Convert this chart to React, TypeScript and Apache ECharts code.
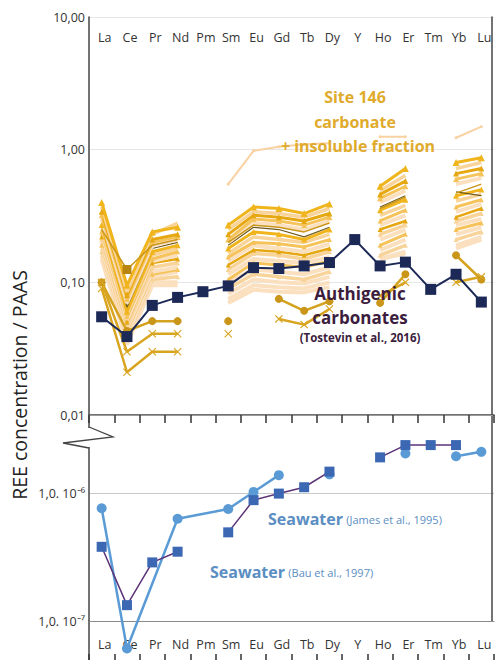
import React, { useEffect, useRef } from 'react';
import * as echarts from 'echarts';

const categories = ['La', 'Ce', 'Pr', 'Nd', 'Pm', 'Sm', 'Eu', 'Gd', 'Tb', 'Dy', 'Y', 'Ho', 'Er', 'Tm', 'Yb', 'Lu'];

// Authigenic carbonates (Tostevin et al., 2016), REE / PAAS
const authigenic = [0.055, 0.039, 0.067, 0.077, 0.085, 0.094, 0.129, 0.127, 0.133, 0.141, 0.21, 0.133, 0.142, 0.0885, 0.115, 0.071];

// Seawater (Bau et al., 1997)
const seawaterBau = [3.8e-7, 1.33e-7, 2.87e-7, 3.48e-7, null, 4.93e-7, 8.8e-7, 9.9e-7, 1.11e-6, 1.47e-6, null, 1.9e-6, 2.37e-6, 2.37e-6, 2.37e-6, null];
// Seawater (James et al., 1995) – connected part and isolated/late part
const seawaterJamesA = [7.6e-7, 6.1e-8, null, 6.3e-7, null, 7.5e-7, 1.02e-6, 1.38e-6, null, null, null, null, null, null, null, null];
const seawaterJamesB = [null, null, null, null, null, null, null, null, null, 1.4e-6, null, null, 2.04e-6, null, 1.94e-6, 2.1e-6];

// Site 146 carbonate + insoluble fraction
const insoluble = [null, null, null, null, null, 0.55, 0.98, 1.05, 1.1, 1.12, null, 1.25, 1.25, null, 1.23, 1.49];
const g01 = [0.40, 0.095, 0.24, 0.26, null, 0.27, 0.37, 0.36, 0.33, 0.39, null, 0.53, 0.72, null, 0.80, 0.87];
const g02 = [0.37, 0.085, 0.23, 0.28, null, 0.25, 0.34, 0.33, 0.31, 0.36, null, 0.49, 0.64, null, 0.72, 0.80];
const g03 = [0.34, 0.08, 0.21, 0.23, null, 0.23, 0.32, 0.31, 0.29, 0.33, null, 0.46, 0.58, null, 0.66, 0.72];
const g04 = [0.32, 0.075, 0.20, 0.22, null, 0.21, 0.30, 0.29, 0.27, 0.31, null, 0.43, 0.53, null, 0.60, 0.66];
const g05 = [0.30, 0.07, 0.19, 0.21, null, 0.20, 0.28, 0.27, 0.25, 0.29, null, 0.40, 0.49, null, 0.55, 0.61];
const g06 = [0.28, 0.065, 0.18, 0.20, null, 0.19, 0.26, 0.25, 0.22, 0.26, null, 0.37, 0.45, null, 0.48, 0.45];
const g07 = [0.27, 0.06, 0.17, 0.19, null, 0.18, 0.24, 0.23, 0.21, 0.25, null, 0.35, 0.42, null, 0.45, 0.50];
const g08 = [0.25, 0.058, 0.16, 0.18, null, 0.165, 0.22, 0.21, 0.20, 0.23, null, 0.32, 0.38, null, 0.41, 0.46];
const g09 = [0.24, 0.055, 0.15, 0.17, null, 0.155, 0.20, 0.195, 0.185, 0.21, null, 0.29, 0.35, null, 0.37, 0.42];
const g10 = [0.23, 0.052, 0.145, 0.16, null, 0.145, 0.19, 0.18, 0.17, 0.195, null, 0.27, 0.32, null, 0.34, 0.39];
const g11 = [0.22, 0.05, 0.14, 0.15, null, 0.135, 0.175, 0.17, 0.16, 0.18, null, 0.25, 0.29, null, 0.31, 0.36];
const g12 = [0.21, 0.047, 0.13, 0.14, null, 0.125, 0.165, 0.16, 0.15, 0.17, null, 0.23, 0.27, null, 0.29, 0.33];
const g13 = [0.20, 0.045, 0.12, 0.13, null, 0.115, 0.15, 0.145, 0.14, 0.155, null, 0.21, 0.25, null, 0.27, 0.30];
const g14 = [0.19, 0.043, 0.115, 0.125, null, 0.105, 0.14, 0.135, 0.13, 0.145, null, 0.19, 0.23, null, 0.25, 0.28];
const g15 = [0.18, 0.04, 0.11, 0.12, null, 0.10, 0.125, 0.12, 0.115, 0.13, null, 0.175, 0.21, null, 0.23, 0.26];
const g16 = [0.17, 0.038, 0.105, 0.11, null, 0.09, 0.115, 0.11, 0.105, 0.12, null, 0.16, 0.19, null, 0.21, 0.24];
const g17 = [0.16, 0.036, 0.10, 0.10, null, 0.082, 0.105, 0.10, 0.098, 0.11, null, 0.15, 0.17, null, 0.19, 0.22];
const g18 = [0.15, 0.034, 0.095, 0.095, null, 0.075, 0.095, 0.092, 0.09, 0.10, null, 0.15, 0.165, null, 0.18, 0.21];
const g19 = [null, null, null, null, null, 0.07, 0.088, 0.085, 0.084, 0.092, null, null, null, null, null, null];
const dSquare = [0.25, 0.125, 0.19, 0.21, null, 0.2, 0.27, 0.26, 0.24, 0.28, null, 0.36, 0.44, null, 0.47, 0.55];
const dCircle = [0.10, 0.043, 0.051, 0.051, null, 0.051, null, 0.075, 0.061, 0.072, null, 0.070, 0.115, null, 0.16, 0.105];
const dCross1 = [0.10, 0.030, 0.041, 0.041, null, 0.041, null, 0.053, 0.048, 0.063, null, 0.079, 0.10, null, 0.10, 0.11];
const dCross2 = [0.09, 0.021, 0.030, 0.030, null, null, null, null, null, null, null, null, null, null, null, null];

const topTicks: any = { 1: '10,00', 0: '1,00', '-1': '0,10', '-2': '0,01' };
const lowTicks: any = { '-6': '1,0. 10⁻⁶', '-7': '1,0. 10⁻⁷' };

const GOLD = '#f0b41c';
const GOLD2 = '#e6a812';
const MID = '#f5c35a';
const PALE = '#f8d49a';
const PEACH = '#fbe0c0';
const OLIVE = '#6f5a1e';
const CROSS = 'path://M0,1L1,0L5,4L9,0L10,1L6,5L10,9L9,10L5,6L1,10L0,9L4,5Z';
const FONT = 'Open Sans';

export default function App() {
  const ref = useRef<HTMLDivElement>(null);
  useEffect(() => {
    const chart = echarts.init(ref.current!, null, { renderer: 'svg' });
    const band: Array<[any[], string, number, string, number]> = [
      [g18, PEACH, 4, 'none', 0],
      [g17, PEACH, 4, 'none', 0],
      [g16, PALE, 3.5, 'triangle', 5],
      [g15, PEACH, 4, 'none', 0],
      [g14, MID, 3, 'triangle', 5],
      [g13, PEACH, 4, 'none', 0],
      [g12, PALE, 3.5, 'triangle', 5],
      [g11, GOLD2, 2.5, 'triangle', 5],
      [g10, PEACH, 4, 'none', 0],
      [g09, MID, 3, 'triangle', 5],
      [g08, PALE, 3.5, 'none', 0],
      [g07, GOLD, 3, 'triangle', 6],
      [g06, OLIVE, 1.2, 'none', 0],
      [g05, PEACH, 4, 'none', 0],
      [g04, MID, 3, 'triangle', 6],
      [g03, GOLD2, 3, 'triangle', 6],
      [g02, PALE, 3.5, 'none', 0],
      [g01, GOLD, 3, 'triangle', 7],
      [g19, PEACH, 4, 'none', 0],
    ];
    const goldSeries: any[] = band.map(([d, c, w, s, ss]) => ({
      type: 'line', xAxisIndex: 0, yAxisIndex: 0, data: d, connectNulls: false,
      symbol: s, symbolSize: ss, showSymbol: s !== 'none',
      lineStyle: { color: c, width: w }, itemStyle: { color: c }, z: 2,
    }));
    goldSeries.push(
      {
        type: 'line', xAxisIndex: 0, yAxisIndex: 0, connectNulls: false,
        data: dSquare.map((v, i) => (i === 1 ? { value: v, symbol: 'rect', symbolSize: 9 } : { value: v, symbol: 'none' })),
        lineStyle: { color: '#c9961a', width: 1.5 }, itemStyle: { color: '#b8860f' }, z: 3,
      },
      {
        type: 'line', xAxisIndex: 0, yAxisIndex: 0, data: dCircle, connectNulls: false,
        symbol: 'circle', symbolSize: 8, lineStyle: { color: '#d4a21e', width: 2.5 }, itemStyle: { color: '#c9961a' }, z: 3,
      },
      {
        type: 'line', xAxisIndex: 0, yAxisIndex: 0, data: dCross1, connectNulls: false,
        symbol: CROSS, symbolSize: 8, lineStyle: { color: '#d9a521', width: 2.5 }, itemStyle: { color: '#d9a521' }, z: 3,
      },
      {
        type: 'line', xAxisIndex: 0, yAxisIndex: 0, data: dCross2, connectNulls: false,
        symbol: CROSS, symbolSize: 8, lineStyle: { color: '#d9a521', width: 2.5 }, itemStyle: { color: '#d9a521' }, z: 3,
      },
      {
        type: 'line', xAxisIndex: 0, yAxisIndex: 0, data: insoluble, connectNulls: false,
        symbol: 'circle', symbolSize: 3, lineStyle: { color: '#f8d2a2', width: 2 }, itemStyle: { color: '#f8d2a2' }, z: 2,
      },
    );

    const catAxisBase = { type: 'category', data: categories, boundaryGap: true };
    const option: any = {
      animation: false,
      grid: [
        { left: 89, top: 17, width: 405, height: 398 },
        { left: 89, top: 416, width: 405, height: 205 },
        { left: 89, top: 621, width: 405, height: 39 },
      ],
      xAxis: [
        {
          ...catAxisBase, gridIndex: 0, position: 'top',
          axisLine: { show: true, lineStyle: { color: '#444', width: 1.5 } },
          axisTick: { show: true, inside: true, length: 8, lineStyle: { color: '#333', width: 1.5 } },
          axisLabel: { inside: true, interval: 0, margin: 14, fontSize: 12.5, color: '#333', fontFamily: FONT, padding: [0, 0, 0, 6] },
          splitLine: { show: false },
        },
        {
          ...catAxisBase, gridIndex: 0, position: 'bottom',
          axisLine: { show: true, lineStyle: { color: '#9a9a9a', width: 1 } },
          axisTick: { show: false }, axisLabel: { show: false }, splitLine: { show: false },
        },
        {
          ...catAxisBase, gridIndex: 1, position: 'bottom',
          axisLine: { show: true, lineStyle: { color: '#8a8a8a', width: 1 } },
          axisTick: { show: false }, axisLabel: { show: false }, splitLine: { show: false },
        },
        {
          ...catAxisBase, gridIndex: 2, position: 'bottom',
          axisLine: { show: false },
          axisTick: { show: true, inside: true, length: 6, lineStyle: { color: '#333', width: 1.5 } },
          axisLabel: { inside: true, interval: 0, margin: 9, fontSize: 12.5, color: '#333', fontFamily: FONT, padding: [0, 0, 0, 6] },
          splitLine: { show: false },
        },
      ],
      yAxis: [
        {
          type: 'log', gridIndex: 0, min: 0.01, max: 10, position: 'left',
          axisLine: { show: true, lineStyle: { color: '#444', width: 1.5 } },
          axisTick: { show: false },
          axisLabel: {
            margin: 4, fontSize: 12.5, color: '#333', fontFamily: FONT,
            formatter: (v: number) => {
              const l = Math.log10(v); const e = Math.round(l);
              return Math.abs(l - e) < 0.01 ? topTicks[e] || '' : '';
            },
          },
          splitLine: { show: true, lineStyle: { color: '#e6e6e6', width: 1 } },
        },
        {
          type: 'value', gridIndex: 0, position: 'right', offset: -2,
          axisLine: { show: true, lineStyle: { color: '#444', width: 1.5 } },
          axisTick: { show: false }, axisLabel: { show: false }, splitLine: { show: false },
        },
        {
          type: 'log', gridIndex: 1, min: 1e-7, max: 4e-6, position: 'left',
          axisLine: { show: true, lineStyle: { color: '#444', width: 1.5 } },
          axisTick: { show: false },
          axisLabel: {
            margin: 4, fontSize: 12.5, color: '#333', fontFamily: FONT, showMaxLabel: false,
            formatter: (v: number) => {
              const l = Math.log10(v); const e = Math.round(l);
              return Math.abs(l - e) < 0.01 ? lowTicks[e] || '' : '';
            },
          },
          splitLine: { show: true, showMaxLine: false, lineStyle: { color: '#c8c8c8', width: 1 } },
        },
        {
          type: 'value', gridIndex: 1, position: 'right', offset: -2,
          axisLine: { show: true, lineStyle: { color: '#444', width: 1.5 } },
          axisTick: { show: false }, axisLabel: { show: false }, splitLine: { show: false },
        },
        {
          type: 'value', gridIndex: 2, position: 'left',
          axisLine: { show: true, lineStyle: { color: '#444', width: 1.5 } },
          axisTick: { show: false }, axisLabel: { show: false }, splitLine: { show: false },
        },
      ],
      series: [
        ...goldSeries,
        {
          type: 'line', name: 'Authigenic carbonates', xAxisIndex: 0, yAxisIndex: 0, data: authigenic,
          symbol: 'rect', symbolSize: 11, lineStyle: { color: '#1c2957', width: 2 }, itemStyle: { color: '#1c2957' }, z: 5,
        },
        {
          type: 'line', name: 'Seawater James', xAxisIndex: 2, yAxisIndex: 2, data: seawaterJamesA, connectNulls: true, clip: false,
          symbol: 'circle', symbolSize: 10, lineStyle: { color: '#5b9bd5', width: 2.5 }, itemStyle: { color: '#5b9bd5' }, z: 3,
        },
        {
          type: 'line', name: 'Seawater James', xAxisIndex: 2, yAxisIndex: 2, data: seawaterJamesB, connectNulls: false,
          symbol: 'circle', symbolSize: 10, lineStyle: { color: '#5b9bd5', width: 2.5 }, itemStyle: { color: '#5b9bd5' }, z: 3,
        },
        {
          type: 'line', name: 'Seawater Bau', xAxisIndex: 2, yAxisIndex: 2, data: seawaterBau, connectNulls: false,
          symbol: 'rect', symbolSize: 10, lineStyle: { color: '#5c3278', width: 1.5 }, itemStyle: { color: '#3b67b3' }, z: 4,
        },
      ],
      graphic: [
        { type: 'rect', shape: { x: 85, y: 428, width: 8, height: 19 }, style: { fill: '#fff' }, z: 100 },
        { type: 'polyline', shape: { points: [[89, 427], [113, 437], [63, 443], [89, 448]] }, style: { stroke: '#444', lineWidth: 1.3, fill: null }, z: 101 },
        {
          type: 'text', x: 19, y: 385, rotation: Math.PI / 2, z: 100,
          style: { text: 'REE concentration / PAAS', fontSize: 19.5, fontFamily: FONT, fill: '#222', align: 'center', verticalAlign: 'middle' },
        },
        { type: 'text', x: 355, y: 97, z: 100, style: { text: 'Site 146', fontSize: 16, fontWeight: 'bold', fontFamily: FONT, fill: '#e0ab2c', align: 'center', verticalAlign: 'middle' } },
        { type: 'text', x: 355, y: 122, z: 100, style: { text: 'carbonate', fontSize: 16, fontWeight: 'bold', fontFamily: FONT, fill: '#e0ab2c', align: 'center', verticalAlign: 'middle' } },
        { type: 'text', x: 358, y: 146, z: 100, style: { text: '+ insoluble fraction', fontSize: 16, fontWeight: 'bold', fontFamily: FONT, fill: '#e0ab2c', align: 'center', verticalAlign: 'middle' } },
        { type: 'text', x: 360, y: 293, z: 100, style: { text: 'Authigenic', fontSize: 17, fontWeight: 'bold', fontFamily: FONT, fill: '#3c1d3d', align: 'center', verticalAlign: 'middle' } },
        { type: 'text', x: 360, y: 317, z: 100, style: { text: 'carbonates', fontSize: 17, fontWeight: 'bold', fontFamily: FONT, fill: '#3c1d3d', align: 'center', verticalAlign: 'middle' } },
        { type: 'text', x: 360, y: 337, z: 100, style: { text: '(Tostevin et al., 2016)', fontSize: 11.5, fontWeight: 'bold', fontFamily: FONT, fill: '#3c1d3d', align: 'center', verticalAlign: 'middle' } },
        {
          type: 'text', x: 268, y: 519, z: 100,
          style: {
            text: '{b|Seawater} {n|(James et al., 1995)}', align: 'left', verticalAlign: 'middle',
            rich: { b: { fontSize: 16, fontWeight: 'bold', fontFamily: FONT, fill: '#5b8ec2' }, n: { fontSize: 11, fontFamily: FONT, fill: '#5b8ec2' } },
          },
        },
        {
          type: 'text', x: 210, y: 572, z: 100,
          style: {
            text: '{b|Seawater} {n|(Bau et al., 1997)}', align: 'left', verticalAlign: 'middle',
            rich: { b: { fontSize: 16, fontWeight: 'bold', fontFamily: FONT, fill: '#5b8ec2' }, n: { fontSize: 11, fontFamily: FONT, fill: '#5b8ec2' } },
          },
        },
      ],
    };
    chart.setOption(option);
    return () => chart.dispose();
  }, []);
  return <div ref={ref} style={{ position: 'absolute', left: 0, top: 0, width: 497, height: 660 }} />;
}
